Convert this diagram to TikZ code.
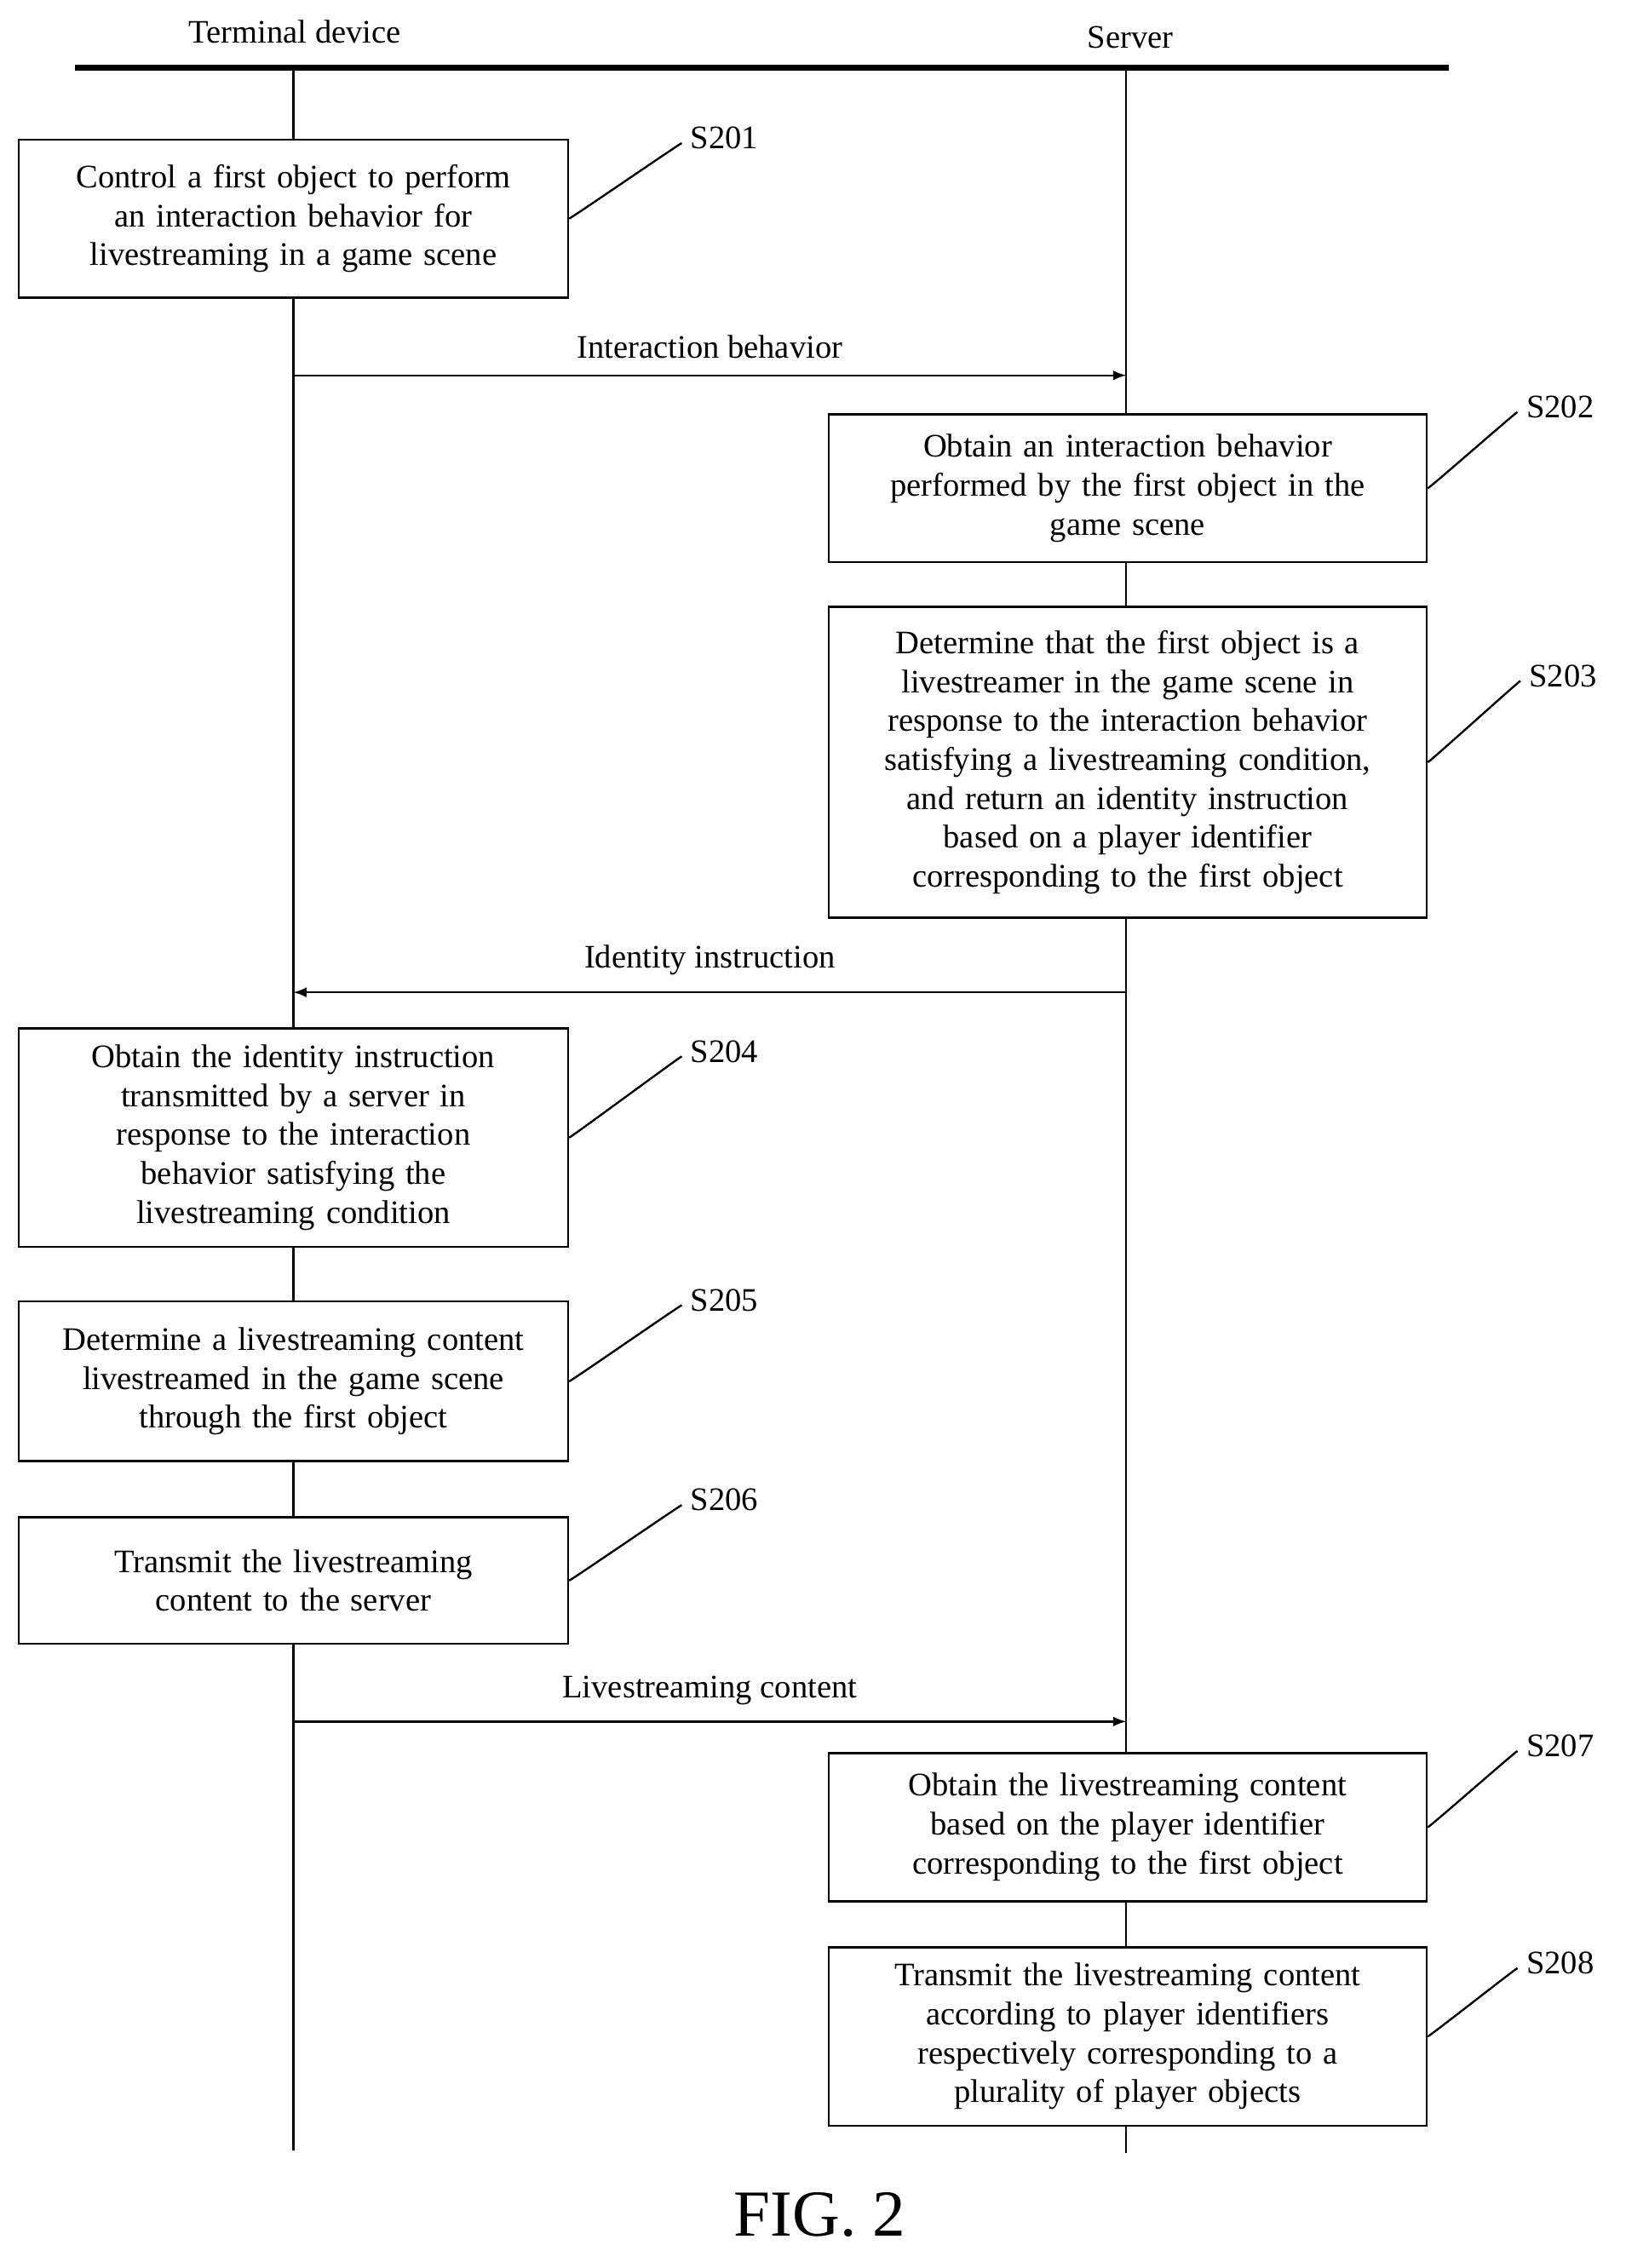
\documentclass[tikz,border=0pt]{standalone}
\usepackage{fontspec}
\setmainfont{Liberation Serif}
\usetikzlibrary{positioning}
\tikzset{step box/.style={draw,fill=white,thick,align=center,inner sep=2pt,font=\fontsize{13}{15.4}\selectfont},
         msg/.style={thick,-latex},
         step label/.style={font=\fontsize{13}{15.4}\selectfont},
         squiggle/.style={thick}}
\begin{document}
\begin{tikzpicture}[x=0.02cm,y=-0.02cm]
       \useasboundingbox (0,0) rectangle (1130,1577);
       \draw[line width=2.2pt] (52,47) -- (1007,47);
       \node[step label] (term) at (205,22) {Terminal device};
       \node[step label] (serv) at (786,26) {Server};

       \coordinate (t0) at (204,47);  \coordinate (t1) at (204,1495);
       \coordinate (s0) at (783,47);  \coordinate (s1) at (783,1497);
       \draw[thick] (t0) -- (t1);
       \draw[thick] (s0) -- (s1);

       \node[step box,minimum width=7.64cm,minimum height=2.2cm,text width=7.4cm] (b1) at (204,152) {Control a first object to perform\\an interaction behavior for\\livestreaming in a game scene};
       \node[step box,minimum width=8.32cm,minimum height=2.06cm,text width=8cm] (b2) at (784,339.5) {Obtain an interaction behavior\\performed by the first object in the\\game scene};
       \node[step box,minimum width=8.32cm,minimum height=4.32cm,text width=8cm] (b3) at (784,530) {Determine that the first object is a\\livestreamer in the game scene in\\response to the interaction behavior\\satisfying a livestreaming condition,\\and return an identity instruction\\based on a player identifier\\corresponding to the first object};
       \node[step box,minimum width=7.64cm,minimum height=3.04cm,text width=7.4cm] (b4) at (204,791) {Obtain the identity instruction\\transmitted by a server in\\response to the interaction\\behavior satisfying the\\livestreaming condition};
       \node[step box,minimum width=7.64cm,minimum height=2.22cm,text width=7.4cm] (b5) at (204,960.5) {Determine a livestreaming content\\livestreamed in the game scene\\through the first object};
       \node[step box,minimum width=7.64cm,minimum height=1.76cm,text width=7.4cm] (b6) at (204,1099) {Transmit the livestreaming\\content to the server};
       \node[step box,minimum width=8.32cm,minimum height=2.06cm,text width=8cm] (b7) at (784,1270.5) {Obtain the livestreaming content\\based on the player identifier\\corresponding to the first object};
       \node[step box,minimum width=8.32cm,minimum height=2.48cm,text width=8cm] (b8) at (784,1416) {Transmit the livestreaming content\\according to player identifiers\\respectively corresponding to a\\plurality of player objects};

       % step labels
       \node[step label,anchor=west] (l1) at (474,96) {S201};
       \node[step label,anchor=west] (l2) at (1055,283) {S202};
       \node[step label,anchor=west] (l3) at (1057,470) {S203};
       \node[step label,anchor=west] (l4) at (474,731) {S204};
       \node[step label,anchor=west] (l5) at (474,904) {S205};
       \node[step label,anchor=west] (l6) at (474,1043) {S206};
       \node[step label,anchor=west] (l7) at (1055,1214) {S207};
       \node[step label,anchor=west] (l8) at (1055,1365) {S208};
       \foreach \b/\l in {b1/l1,b2/l2,b3/l3,b4/l4,b5/l5,b6/l6,b7/l7,b8/l8}
         \draw[squiggle] (\b.east) .. controls +(1.1,0) and +(-0.9,0) .. ([yshift=-2pt]\l.west) ;

       % messages
       \coordinate (m1a) at (204,261); \coordinate (m1b) at (783,261);
       \draw[msg] (m1a) -- node[step label,above=3pt] (m1) {Interaction behavior} (m1b);
       \coordinate (m2a) at (783,690); \coordinate (m2b) at (204,690);
       \draw[msg] (m2a) -- node[step label,above=3pt] (m2) {Identity instruction} (m2b);
       \coordinate (m3a) at (204,1197); \coordinate (m3b) at (783,1197);
       \draw[msg] (m3a) -- node[step label,above=3pt] (m3) {Livestreaming content} (m3b);

       \node[font=\fontsize{26}{30}\selectfont] (fig) at (570,1540) {FIG. 2};
\end{tikzpicture}
\end{document}
